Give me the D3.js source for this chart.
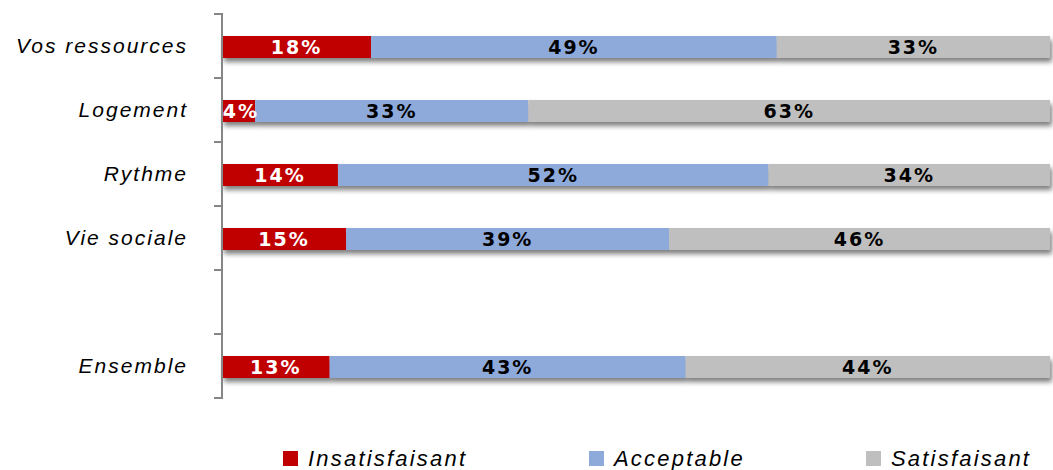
<!DOCTYPE html>
<meta charset="utf-8">
<script src="https://d3js.org/d3.v7.min.js"></script>
<style>
  body { margin: 0; background: #fff; }
</style>
<div id="my_dataviz"></div>
<script>
// categories (top to bottom), one empty slot before "Ensemble"
var categories = ["Vos ressources", "Logement", "Rythme", "Vie sociale", "", "Ensemble"];
var series = ["Insatisfaisant", "Acceptable", "Satisfaisant"];
var insatisfaisant = [18, 4, 14, 15, null, 13];
var acceptable     = [49, 33, 52, 39, null, 43];
var satisfaisant   = [33, 63, 34, 46, null, 44];
var colors = ["#c00000", "#8eaadb", "#bfbfbf"];
var labelColors = ["#ffffff", "#000000", "#000000"];

var width = 1053, height = 470;
var margin = {top: 14, right: 3, bottom: 72, left: 222};

var svg = d3.select("#my_dataviz")
  .append("svg")
    .attr("width", width)
    .attr("height", height);

// soft shadow under the bars
var defs = svg.append("defs");
var f = defs.append("filter").attr("id", "shadow")
  .attr("x", "-5%").attr("y", "-50%").attr("width", "110%").attr("height", "220%");
f.append("feDropShadow")
  .attr("dx", 2).attr("dy", 4).attr("stdDeviation", 2.5)
  .attr("flood-color", "#000").attr("flood-opacity", 0.5);

var x = d3.scaleLinear().domain([0, 100]).range([margin.left, width - margin.right]);
var y = d3.scaleBand().domain(categories).range([margin.top, height - margin.bottom]);
var barH = 22;

// build rows
var rows = categories.map(function(c, i) {
  return {cat: c, vals: [insatisfaisant[i], acceptable[i], satisfaisant[i]]};
}).filter(function(d) { return d.cat !== ""; });

var g = svg.append("g");
rows.forEach(function(r) {
  var cy = y(r.cat) + y.bandwidth() / 2 + 1;
  var row = g.append("g").attr("filter", "url(#shadow)");
  var start = 0;
  r.vals.forEach(function(v, k) {
    row.append("rect")
      .attr("x", x(start))
      .attr("y", cy - barH / 2)
      .attr("width", x(start + v) - x(start))
      .attr("height", barH)
      .attr("fill", colors[k]);
    start += v;
  });
});

// value labels
rows.forEach(function(r) {
  var cy = y(r.cat) + y.bandwidth() / 2 + 1;
  var start = 0;
  r.vals.forEach(function(v, k) {
    var cx = (x(start) + x(start + v)) / 2;
    if (v < 6) cx = x(start) + 19;
    svg.append("text")
      .attr("x", cx)
      .attr("y", cy)
      .attr("dy", "0.36em")
      .attr("text-anchor", "middle")
      .style("font-family", "DejaVu Sans, Verdana, sans-serif")
      .style("font-weight", "bold")
      .style("font-size", "19px")
      .style("letter-spacing", "2px")
      .attr("fill", labelColors[k])
      .text(v + "%");
    start += v;
  });
});

// y axis
var axis = svg.append("g")
  .attr("transform", "translate(" + margin.left + ",0)")
  .call(d3.axisLeft(y).tickSize(0).tickFormat(""));
axis.select(".domain").attr("stroke", "#868686").attr("stroke-width", 2)
  .attr("d", "M-8," + y.range()[0] + "H0V" + y.range()[1] + "H-8");
// tick marks at band boundaries
var bounds = categories.map(function(c) { return y(c); }).slice(1);
svg.selectAll("line.tk")
  .data(bounds)
  .enter().append("line")
    .attr("class", "tk")
    .attr("x1", margin.left - 8).attr("x2", margin.left)
    .attr("y1", function(d) { return d; }).attr("y2", function(d) { return d; })
    .attr("stroke", "#868686").attr("stroke-width", 2);

// category labels
svg.selectAll("text.cat")
  .data(rows)
  .enter().append("text")
    .attr("class", "cat")
    .attr("x", 188)
    .attr("y", function(d) { return y(d.cat) + y.bandwidth() / 2; })
    .attr("dy", "0.35em")
    .attr("text-anchor", "end")
    .style("font-family", "Liberation Sans, Arial, sans-serif")
    .style("font-style", "italic")
    .style("font-size", "21px")
    .style("letter-spacing", "2px")
    .attr("fill", "#000")
    .text(function(d) { return d.cat; });

// legend
var legX = [283, 589, 866];
var leg = svg.selectAll("g.leg")
  .data(series)
  .enter().append("g")
    .attr("class", "leg")
    .attr("transform", function(d, i) { return "translate(" + legX[i] + ",458)"; });
leg.append("rect")
  .attr("x", 0).attr("y", -7)
  .attr("width", 15).attr("height", 15)
  .attr("fill", function(d, i) { return colors[i]; });
leg.append("text")
  .attr("x", 25)
  .attr("y", 0)
  .attr("dy", "0.36em")
  .style("font-family", "Liberation Sans, Arial, sans-serif")
  .style("font-style", "italic")
  .style("font-size", "22px")
  .style("letter-spacing", "2.2px")
  .attr("fill", "#000")
  .text(function(d) { return d; });
</script>
